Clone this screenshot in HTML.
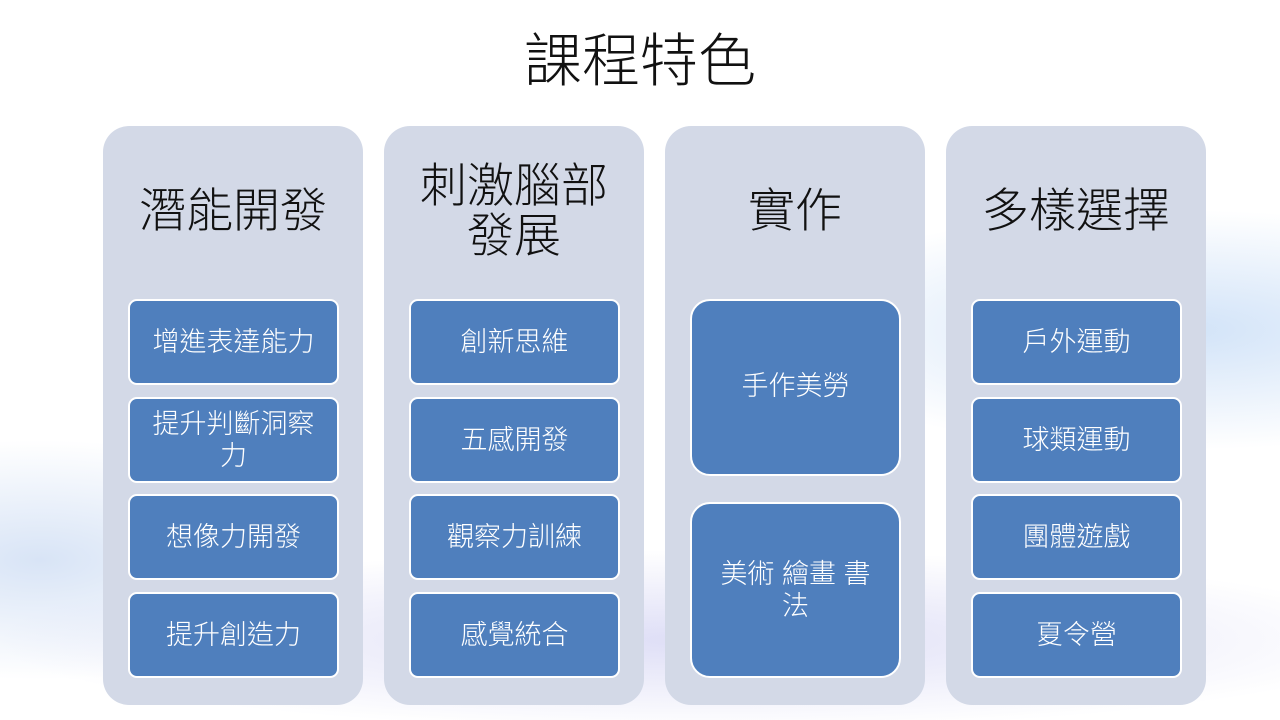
<!DOCTYPE html>
<html><head><meta charset="utf-8"><style>
body{margin:0;width:1280px;height:720px;overflow:hidden;position:relative;font-family:"Liberation Sans","Noto Sans CJK TC",sans-serif;
background:
radial-gradient(ellipse 420px 120px at 1180px 330px,rgba(190,215,245,.7),rgba(255,255,255,0)),
radial-gradient(ellipse 700px 90px at 700px 640px,rgba(200,200,240,.6),rgba(255,255,255,0)),
radial-gradient(ellipse 300px 120px at 40px 560px,rgba(190,210,240,.6),rgba(255,255,255,0)),
#fff;}
.t{position:absolute;left:0;width:1280px;top:26px;text-align:center;font-size:58px;color:#111;line-height:72px;font-weight:300}
.c{position:absolute;top:126px;width:260px;height:579px;border-radius:26px;background:#d3d9e7}
.h{position:absolute;left:0;width:260px;text-align:center;font-size:47px;color:#111;line-height:50px;font-weight:300}
.b{position:absolute;left:25px;width:211px;height:86px;box-sizing:border-box;border:2px solid #fff;border-radius:9px;background:#4f7fbd;color:#fff;font-size:27px;line-height:32px;display:flex;align-items:center;justify-content:center;text-align:center;padding:0 12px;font-weight:300}
</style></head><body>
<div class="t">課程特色</div>
<div class="c" style="left:103px"><div class="h" style="top:60px">潛能開發</div>
<div class="b" style="top:173px">增進表達能力</div>
<div class="b" style="top:271px">提升判斷洞察力</div>
<div class="b" style="top:368px">想像力開發</div>
<div class="b" style="top:466px">提升創造力</div></div>
<div class="c" style="left:384px"><div class="h" style="top:35px">刺激腦部<br>發展</div>
<div class="b" style="top:173px">創新思維</div>
<div class="b" style="top:271px">五感開發</div>
<div class="b" style="top:368px">觀察力訓練</div>
<div class="b" style="top:466px">感覺統合</div></div>
<div class="c" style="left:665px"><div class="h" style="top:60px">實作</div>
<div class="b" style="top:173px;height:177px;border-radius:20px;padding-bottom:4px">手作美勞</div>
<div class="b" style="top:376px;height:176px;border-radius:20px;padding:0 20px">美術 繪畫 書法</div></div>
<div class="c" style="left:946px"><div class="h" style="top:60px">多樣選擇</div>
<div class="b" style="top:173px">戶外運動</div>
<div class="b" style="top:271px">球類運動</div>
<div class="b" style="top:368px">團體遊戲</div>
<div class="b" style="top:466px">夏令營</div></div>
</body></html>
